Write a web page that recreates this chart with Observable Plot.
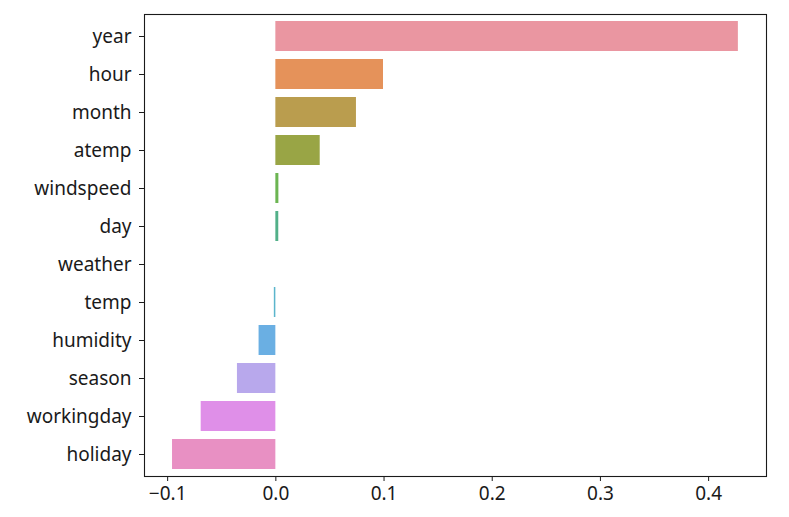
<!DOCTYPE html>
<html>
<head>
<meta charset="utf-8">
<script src="https://cdn.jsdelivr.net/npm/d3@7"></script>
<script src="https://cdn.jsdelivr.net/npm/@observablehq/plot@0.6"></script>
<style>
  html, body { margin: 0; padding: 0; background: #fff; }
  #chart svg { display: block; }
  #chart svg text { font-size: 19px; }
</style>
</head>
<body>
<div id="chart"></div>
<script>
const features = ["year","hour","month","atemp","windspeed","day","weather","temp","humidity","season","workingday","holiday"];
const coefs = [0.4275, 0.0995, 0.0745, 0.041, 0.0028, 0.0027, 0.0, -0.0014, -0.0155, -0.0355, -0.069, -0.0955];
const colors = ["#ea96a1","#e5925a","#ba9d4e","#99a545","#6cb552","#52b089","#54b0a6","#5bb5cc","#6aafe3","#b8a8ec","#df8fe8","#e890c3"];
const xTicks = [-0.1, 0, 0.1, 0.2, 0.3, 0.4];

const data = features.map((f, i) => ({feature: f, coef: coefs[i], color: colors[i]}));

const chart = Plot.plot({
  width: 789,
  height: 517,
  marginLeft: 144,
  marginRight: 23,
  marginTop: 14,
  marginBottom: 41,
  style: {fontFamily: "'Noto Sans', sans-serif", fontSize: "19px", color: "#1a1a1a", background: "#fff"},
  x: {domain: [-0.1214, 0.4535], label: null, ticks: xTicks, tickFormat: d3.format(".1f")},
  y: {domain: features, label: null, paddingInner: 0.2, paddingOuter: 0.1, align: 0.5},
  marks: [
    Plot.barX(data, {y: "feature", x1: 0, x2: "coef", fill: "color"}),
    Plot.frame({stroke: "#1a1a1a", strokeWidth: 1.1}),
    Plot.axisX({ticks: xTicks, tickFormat: d3.format(".1f"), tickSize: 5, tickPadding: 5, label: null}),
    Plot.axisY({tickSize: 5, tickPadding: 8, label: null})
  ]
});
document.getElementById("chart").appendChild(chart);
</script>
</body>
</html>
